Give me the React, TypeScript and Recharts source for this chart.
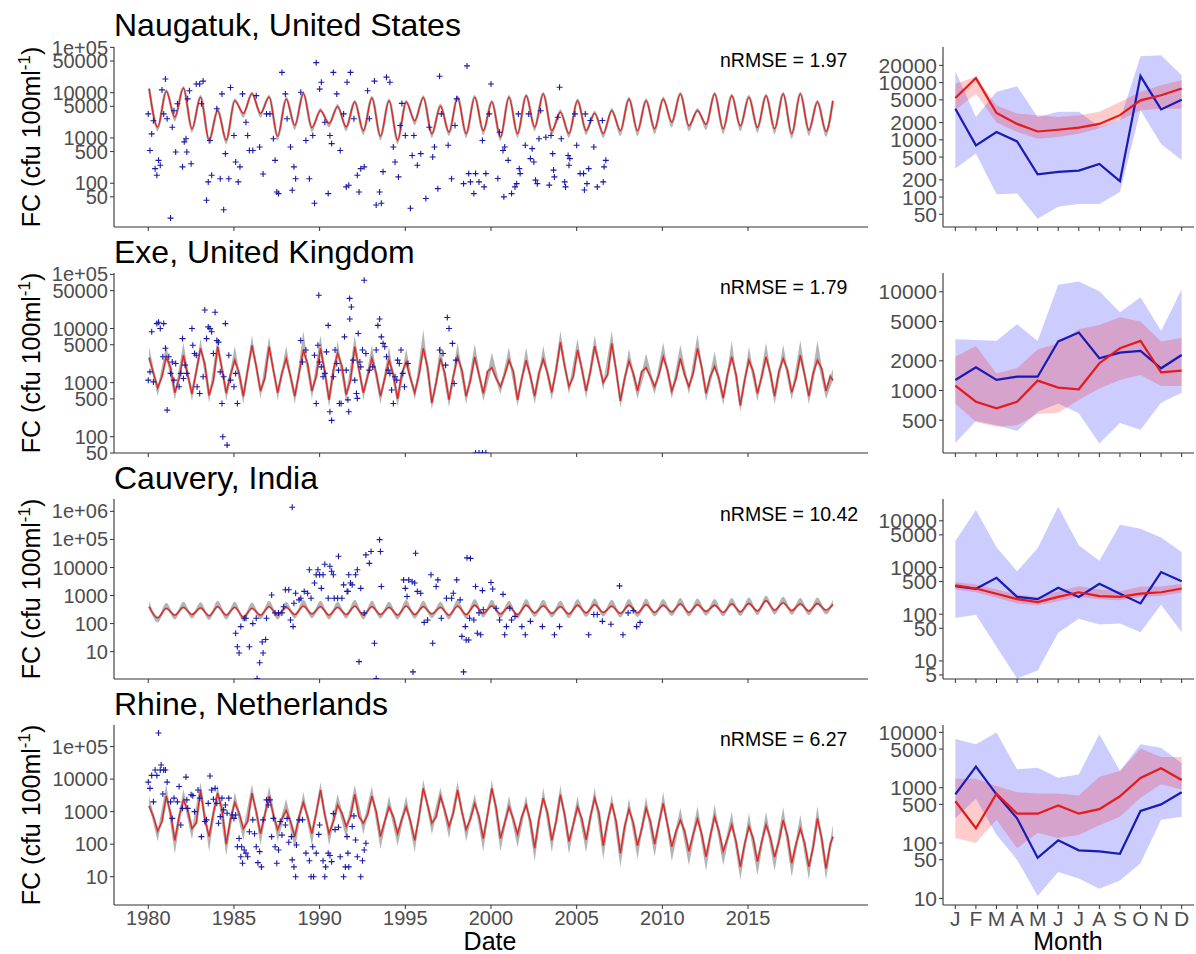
import React from "react";
import { Area, ComposedChart, Line, Scatter, XAxis, YAxis } from "recharts";

const FONT = "'Liberation Sans', Arial, Helvetica, sans-serif";
const AXIS = "#333333";
const TICK_TEXT = "#4d4d4d";
const SIM_RED = "#e8201f";
const OBS_BLUE = "#1a1aa8";
const GRAY_BAND = "#b4b4b4";
const GRAY_LINE = "#a6a6a6";
const MONTH_BLUE = "#1a1ab5";
const MONTH_RED = "#e41a1c";

const START_YEAR = 1980;
const YEAR_TICKS = [1980, 1985, 1990, 1995, 2000, 2005, 2010, 2015];
const MONTHS = ["J", "F", "M", "A", "M", "J", "J", "A", "S", "O", "N", "D"];

// ---- Naugatuk, United States ----
const naugPeak = [12300, 10700, 12600, 7900, 4000, 6600, 9500, 8000, 7200, 9500, 4000, 4900, 6200, 7600, 6600, 6200, 7800, 5000, 7800, 7900, 6200, 7900, 8500, 9300, 3700, 6600, 3500, 4000, 7200, 6600, 7200, 9300, 4000, 9300, 8500, 7900, 8500, 9300, 9300, 6200, 6600];
const naugTrough = [1740, 2900, 1600, 900, 900, 3500, 3500, 1100, 1900, 1700, 2100, 1750, 1450, 1100, 900, 2400, 1250, 1350, 1250, 1450, 1050, 1250, 1750, 1450, 1250, 1450, 1250, 1450, 1450, 1600, 2250, 1850, 2000, 1600, 1850, 1700, 1600, 1250, 1500, 1400];
const naugGrayTop = [14000, 12000, 14000, 9000, 4800, 7500, 10500, 9000, 8200, 10500, 4600, 5600, 7000, 8500, 7500, 7000, 8800, 5800, 8800, 9000, 7000, 9000, 9500, 10500, 4300, 7500, 4000, 4600, 8200, 7500, 8200, 10500, 4600, 10500, 9500, 9000, 9500, 10500, 10500, 7000, 7500];
const naugGrayBottom = [1400, 2300, 1300, 720, 720, 2800, 2800, 880, 1500, 1350, 1700, 1400, 1150, 880, 720, 1900, 1000, 1100, 1000, 1150, 850, 1000, 1400, 1150, 1000, 1150, 1000, 1100, 1100, 1200, 1700, 1400, 1500, 1200, 1400, 1300, 1200, 950, 1100, 1050];
const naugObs: [number, number][] = [
  [1980.0, 3400], [1980.1, 530], [1980.2, 1230], [1980.3, 2400], [1980.4, 210], [1980.5, 150], [1980.6, 320], [1980.7, 250], [1980.8, 11500], [1980.9, 3400],
  [1981.0, 20000], [1981.1, 2650], [1981.3, 17], [1981.4, 1720], [1981.5, 4000], [1981.6, 490], [1981.7, 5700], [1982.0, 230], [1982.1, 820], [1982.2, 960],
  [1982.25, 490], [1982.3, 7300], [1982.4, 11000], [1982.5, 270], [1982.8, 15500], [1983.0, 15500], [1983.1, 5700], [1983.2, 18000], [1983.4, 42], [1983.5, 107],
  [1983.6, 880], [1983.7, 150], [1984.0, 4400], [1984.2, 126], [1984.3, 9400], [1984.4, 26], [1984.5, 450], [1984.7, 126], [1984.8, 13000], [1985.0, 1130],
  [1985.1, 295], [1985.25, 107], [1985.35, 230], [1985.5, 9400], [1985.7, 2230], [1985.8, 1130], [1985.9, 530], [1986.1, 530], [1986.3, 8600], [1986.5, 630],
  [1986.7, 160], [1986.9, 3400], [1987.1, 3400], [1987.3, 960], [1987.4, 320], [1987.5, 64], [1987.6, 59], [1987.8, 28000], [1988.0, 9400], [1988.1, 2650],
  [1988.3, 630], [1988.4, 70], [1988.5, 230], [1988.6, 126], [1988.9, 10200], [1989.2, 880], [1989.4, 126], [1989.6, 1130], [1989.7, 36], [1989.8, 46000],
  [1990.0, 12000], [1990.1, 17000], [1990.3, 2230], [1990.5, 59], [1990.6, 1130], [1990.7, 750], [1990.8, 28000], [1991.0, 9400], [1991.2, 530], [1991.4, 3400],
  [1991.55, 83], [1991.6, 17000], [1991.7, 90], [1991.8, 28000], [1992.0, 2650], [1992.2, 150], [1992.3, 64], [1992.4, 210], [1992.6, 230], [1992.8, 11000],
  [1992.9, 2650], [1993.2, 18000], [1993.3, 33], [1993.5, 64], [1993.6, 36], [1993.7, 180], [1993.9, 22000], [1994.1, 17000], [1994.3, 630], [1994.4, 295],
  [1994.6, 138], [1994.7, 1880], [1994.8, 5800], [1995.0, 1130], [1995.3, 28], [1995.4, 410], [1995.5, 1130], [1995.7, 250], [1995.9, 450], [1996.2, 46],
  [1996.4, 1720], [1996.6, 380], [1996.7, 630], [1996.9, 76], [1997.0, 23000], [1997.1, 3400], [1997.5, 690], [1997.7, 126], [1997.9, 1880], [1998.0, 7300],
  [1998.4, 98], [1998.6, 39000], [1998.7, 163], [1998.8, 107], [1999.0, 59], [1999.1, 163], [1999.3, 107], [1999.5, 880], [1999.6, 83], [1999.7, 163],
  [1999.9, 3400], [2000.0, 15500], [2000.4, 127], [2000.5, 1340], [2000.7, 530], [2000.75, 50], [2000.8, 630], [2001.0, 320], [2001.2, 59], [2001.4, 83],
  [2001.5, 98], [2001.6, 3400], [2001.65, 210], [2001.7, 163], [2002.0, 690], [2002.2, 3400], [2002.3, 350], [2002.4, 580], [2002.5, 295], [2002.6, 117],
  [2002.7, 98], [2002.8, 960], [2002.9, 4000], [2003.2, 1040], [2003.4, 91], [2003.5, 1130], [2003.6, 450], [2003.65, 195], [2003.7, 138], [2003.9, 2870],
  [2004.0, 13200], [2004.1, 960], [2004.3, 107], [2004.35, 83], [2004.5, 410], [2004.55, 250], [2004.6, 350], [2004.9, 3400], [2005.0, 690], [2005.2, 163],
  [2005.4, 163], [2005.45, 71], [2005.5, 3400], [2005.6, 98], [2005.7, 210], [2005.8, 2420], [2006.0, 630], [2006.2, 83], [2006.5, 2420], [2006.55, 107],
  [2006.6, 230], [2006.7, 320],
];
const naugMonthObs = [3500, 800, 1370, 940, 250, 275, 290, 380, 190, 13000, 3400, 5000];
const naugMonthObsLo = [315, 580, 112, 115, 42, 68, 76, 76, 123, 3300, 850, 440];
const naugMonthObsHi = [16000, 2500, 6900, 8600, 2500, 3100, 3100, 1700, 2200, 29000, 30000, 13400];
const naugMonthSim = [5400, 12000, 2950, 1900, 1400, 1500, 1630, 1900, 2700, 4900, 6000, 7900];
const naugMonthSimLo = [3300, 6400, 2000, 1370, 1050, 1120, 1280, 1600, 2200, 3300, 3500, 3500];
const naugMonthSimHi = [9600, 12600, 4000, 2900, 2700, 2500, 2700, 3100, 4600, 6900, 9000, 11000];

// ---- Exe, United Kingdom ----
const exePeak = [2900, 3000, 3200, 4300, 4600, 2600, 4900, 4600, 2800, 4000, 4300, 3500, 4600, 2800, 2600, 2400, 4300, 2800, 3000, 3000, 1900, 2600, 2600, 2700, 5600, 4000, 4700, 5300, 2500, 1900, 3000, 2800, 4300, 2000, 3000, 2600, 3000, 2800, 3200, 2600, 1100];
const exeFall = [1500, 1900, 1400, 2200, 1800, 1500, 2000, 1700, 1300, 2200, 1600, 2000, 1700, 1500, 1400, 1200, 1900, 1500, 1700, 1400, 1200, 1600, 1300, 1500, 2000, 1800, 2200, 1700, 1500, 1300, 1700, 1400, 1900, 1200, 1400, 1600, 1500, 1700, 1400, 1800];
const exeTrough = [800, 650, 620, 580, 640, 560, 700, 650, 560, 700, 480, 600, 650, 560, 500, 650, 420, 480, 560, 630, 840, 480, 560, 660, 840, 700, 1000, 460, 700, 840, 700, 840, 630, 520, 380, 630, 560, 660, 560, 700];
const exeRise = [1300, 1200, 1600, 1100, 1400, 1700, 1200, 1500, 1500, 1300, 1700, 1100, 1300, 1200, 1500, 1400, 1000, 1300, 1100, 1600, 1400, 1200, 1500, 1700, 1300, 1600, 1400, 1200, 1600, 1400, 1200, 1500, 1300, 1400, 1100, 1300, 1600, 1200, 1500, 1300];
const exeGrayTop = [4600, 5000, 5500, 6500, 7000, 4800, 7500, 7000, 4800, 9000, 7500, 6000, 7500, 5000, 4600, 4200, 9500, 5000, 5500, 5200, 3600, 4500, 4500, 4800, 9100, 6500, 7500, 9100, 4200, 3500, 5500, 5000, 7800, 3800, 5900, 4600, 5500, 5000, 6000, 6000, 1800];
const exeGrayBottom = [560, 470, 450, 420, 460, 400, 500, 470, 400, 500, 350, 430, 470, 400, 360, 470, 320, 350, 400, 450, 600, 360, 400, 470, 600, 500, 720, 340, 500, 600, 500, 600, 450, 380, 290, 450, 400, 470, 400, 500];
const exeObs: [number, number][] = [
  [1980.0, 1110], [1980.1, 1580], [1980.2, 8700], [1980.3, 1030], [1980.5, 12300], [1980.6, 13000], [1980.7, 10000], [1980.85, 3000], [1980.9, 12300], [1981.0, 4300],
  [1981.1, 310], [1981.2, 3000], [1981.3, 1480], [1981.4, 2400], [1981.5, 1110], [1981.6, 2250], [1981.8, 840], [1981.9, 1480], [1982.0, 6500], [1982.05, 1190],
  [1982.15, 2100], [1982.25, 1480], [1982.55, 10000], [1982.6, 4900], [1982.7, 3450], [1982.8, 3200], [1982.85, 840], [1983.0, 630], [1983.2, 1280], [1983.3, 22000],
  [1983.4, 6500], [1983.5, 10700], [1983.6, 10000], [1983.7, 8700], [1983.8, 3450], [1983.9, 20000], [1984.0, 6000], [1984.1, 5600], [1984.2, 1580], [1984.3, 410],
  [1984.35, 100], [1984.4, 1280], [1984.5, 12300], [1984.6, 70], [1984.7, 3200], [1984.8, 1110], [1985.0, 840], [1985.1, 1480], [1985.2, 410],
  [1988.9, 6000], [1989.0, 2400], [1989.2, 4000], [1989.7, 3200], [1989.8, 410], [1989.9, 4900], [1989.95, 41000], [1990.0, 2400], [1990.1, 1950], [1990.2, 1280],
  [1990.3, 1480], [1990.4, 3700], [1990.5, 11400], [1990.6, 290], [1990.7, 200], [1990.8, 1280], [1990.9, 4000], [1991.0, 2250], [1991.1, 1700], [1991.15, 410],
  [1991.25, 410], [1991.45, 7000], [1991.55, 1700], [1991.65, 480], [1991.7, 290], [1991.75, 36000], [1991.76, 15000], [1991.85, 25000], [1991.95, 2600], [1992.05, 1110],
  [1992.15, 630], [1992.2, 510], [1992.25, 8100], [1992.35, 2400], [1992.4, 1950], [1992.5, 4000], [1992.6, 78000], [1992.7, 3450], [1992.9, 1700], [1993.1, 1950],
  [1993.3, 4000], [1993.4, 11400], [1993.5, 15000], [1993.6, 7000], [1993.7, 5300], [1993.8, 4600], [1993.9, 3000], [1994.0, 1700], [1994.1, 1480], [1994.2, 730],
  [1994.3, 410], [1994.4, 1280], [1994.5, 1110], [1994.55, 2600], [1994.65, 2250], [1994.75, 4000], [1994.85, 1480], [1994.95, 840], [1995.15, 2250],
  [1997.0, 4000], [1997.2, 3450], [1997.35, 2100], [1997.45, 16000], [1997.55, 10000], [1997.75, 5300], [1997.85, 960], [1997.95, 2600],
  [1999.1, 50], [1999.3, 50], [1999.5, 50], [1999.7, 50],
];
const exeMonthObs = [1280, 1720, 1280, 1380, 1380, 3140, 3860, 2120, 2420, 2520, 1680, 2290];
const exeMonthObsLo = [295, 490, 445, 390, 610, 740, 590, 290, 470, 400, 750, 950];
const exeMonthObsHi = [3300, 3250, 3200, 4700, 3180, 11800, 12700, 10100, 6200, 8800, 4000, 10600];
const exeMonthSim = [1120, 770, 660, 770, 1260, 1070, 1030, 1890, 2680, 3180, 1530, 1590];
const exeMonthSimLo = [740, 480, 430, 445, 580, 595, 800, 1050, 1280, 1440, 1110, 1110];
const exeMonthSimHi = [2200, 2830, 1490, 1680, 2610, 3010, 4170, 4620, 5520, 5000, 3140, 3400];

// ---- Cauvery, India ----
const cauPeak = [400, 350, 380, 360, 400, 380, 350, 400, 380, 420, 400, 380, 420, 400, 380, 420, 400, 380, 420, 450, 430, 400, 450, 430, 400, 450, 470, 420, 450, 470, 450, 500, 470, 450, 500, 520, 650, 550, 500, 520, 480];
const cauTrough = [160, 200, 210, 190, 200, 170, 200, 200, 210, 220, 200, 210, 200, 210, 200, 210, 220, 200, 210, 230, 220, 210, 240, 230, 220, 240, 250, 230, 240, 250, 260, 250, 270, 250, 260, 280, 300, 290, 280, 300];
const cauGrayTop = [650, 550, 600, 580, 650, 600, 560, 650, 600, 700, 650, 600, 700, 650, 600, 700, 650, 600, 700, 750, 700, 650, 750, 700, 650, 750, 780, 700, 750, 780, 750, 820, 780, 750, 820, 850, 1000, 900, 820, 850, 700];
const cauGrayBottom = [110, 140, 150, 135, 140, 120, 140, 140, 150, 155, 140, 150, 140, 150, 140, 150, 155, 140, 150, 165, 155, 150, 170, 165, 155, 170, 180, 165, 170, 180, 185, 180, 190, 180, 185, 200, 210, 205, 200, 210];
const cauObs: [number, number][] = [
  [1985.1, 45], [1985.2, 15], [1985.3, 9], [1985.4, 78], [1985.6, 155], [1985.7, 155], [1985.9, 15], [1986.1, 100], [1986.3, 155], [1986.35, 1.1],
  [1986.5, 4], [1986.65, 22], [1986.7, 9], [1986.85, 27], [1986.9, 155], [1987.2, 1050], [1987.4, 240], [1987.6, 240], [1987.8, 240], [1987.9, 400],
  [1988.0, 1600], [1988.2, 1600], [1988.3, 135], [1988.4, 1400000], [1988.45, 78], [1988.5, 530], [1988.6, 1200], [1988.8, 700], [1988.9, 800], [1989.1, 1400],
  [1989.3, 1200], [1989.4, 8300], [1989.5, 800], [1989.7, 2800], [1989.8, 5500], [1989.9, 8300], [1990.0, 5500], [1990.1, 1800], [1990.2, 5500], [1990.3, 13000],
  [1990.5, 800], [1990.6, 11000], [1990.7, 7300], [1990.8, 5500], [1990.85, 800], [1991.05, 800], [1991.1, 25000], [1991.3, 800], [1991.4, 2400], [1991.6, 1400],
  [1991.65, 1400], [1991.7, 5500], [1991.8, 2800], [1991.9, 2400], [1992.1, 5500], [1992.2, 8300], [1992.3, 4.4], [1992.4, 1800], [1992.6, 240], [1992.7, 28000],
  [1992.9, 14000], [1993.0, 37000], [1993.2, 20], [1993.3, 1.1], [1993.5, 98000], [1993.55, 37000], [1993.6, 2100], [1994.9, 3600], [1995.0, 1800], [1995.1, 920],
  [1995.2, 3600], [1995.4, 3100], [1995.45, 1.9], [1995.55, 2800], [1995.6, 32000], [1995.7, 1400], [1995.9, 1200], [1996.1, 110], [1996.3, 135], [1996.5, 5500],
  [1996.6, 20], [1996.8, 2100], [1996.9, 3600], [1997.1, 155], [1997.4, 800], [1997.7, 800], [1997.8, 1200], [1998.0, 3600], [1998.2, 700], [1998.3, 35],
  [1998.4, 1.9], [1998.5, 78], [1998.55, 26], [1998.6, 22000], [1998.75, 155], [1998.8, 21000], [1998.7, 26], [1999.0, 135], [1999.1, 2100], [1999.2, 45],
  [1999.3, 240], [1999.4, 40], [1999.5, 1500], [1999.55, 310], [2000.0, 2900], [2000.1, 1700], [2000.3, 350], [2000.5, 135], [2000.7, 1100], [2000.8, 40],
  [2000.9, 78], [2001.1, 350], [2001.2, 135], [2001.4, 180], [2001.8, 78], [2002.0, 40], [2002.3, 120], [2003.0, 78], [2003.7, 40], [2004.0, 78],
  [2005.7, 40], [2006.0, 210], [2006.2, 210], [2006.5, 120], [2007.0, 95], [2007.5, 2200], [2007.7, 40], [2008.0, 240], [2008.3, 290], [2008.5, 78],
  [2008.7, 110],
];
const cauMonthObs = [400, 350, 600, 235, 210, 370, 235, 450, 275, 170, 800, 510];
const cauMonthObsLo = [83, 97, 20, 4.2, 6.2, 40, 80, 60, 63, 41, 160, 41];
const cauMonthObsHi = [3700, 17000, 2700, 830, 2600, 20000, 3000, 1400, 8200, 6800, 4400, 2150];
const cauMonthSim = [415, 355, 275, 210, 182, 235, 295, 245, 235, 275, 295, 355];
const cauMonthSimLo = [340, 295, 225, 170, 155, 190, 235, 210, 200, 235, 245, 290];
const cauMonthSimHi = [490, 435, 340, 265, 235, 310, 395, 340, 310, 390, 390, 450];

// ---- Rhine, Netherlands ----
const rhinePeak = [1500, 3000, 2300, 4600, 3700, 1900, 3700, 3000, 1100, 1900, 4600, 1600, 3400, 3000, 1400, 1400, 5200, 2900, 4600, 1800, 5200, 1400, 1600, 2600, 3300, 1400, 2600, 1800, 1200, 1300, 1800, 550, 600, 700, 400, 350, 400, 550, 300, 620, 170];
const rhineFall = [700, 900, 1100, 600, 1200, 900, 1000, 800, 500, 700, 800, 900, 700, 1000, 700, 500, 1600, 1100, 1000, 700, 1300, 600, 500, 900, 800, 600, 900, 500, 450, 500, 400, 250, 200, 250, 120, 150, 160, 180, 110, 150];
const rhineTrough = [250, 130, 300, 170, 100, 300, 210, 280, 170, 210, 210, 350, 440, 170, 210, 130, 440, 350, 280, 150, 150, 200, 75, 130, 120, 135, 90, 52, 90, 100, 83, 60, 41, 60, 20, 29, 40, 26, 20, 18];
const rhineRise = [500, 700, 450, 900, 600, 500, 800, 600, 700, 900, 500, 700, 800, 500, 600, 700, 700, 900, 600, 800, 450, 700, 600, 500, 400, 700, 500, 350, 300, 450, 250, 200, 180, 150, 100, 120, 120, 100, 80, 100];
const rhineGrayTop = [3000, 7000, 5000, 8000, 7000, 4000, 7000, 6000, 2500, 4000, 8000, 3500, 6500, 6000, 3000, 3000, 9500, 5500, 8500, 3500, 9500, 3000, 3200, 5500, 6500, 3000, 5500, 3500, 2600, 2800, 4000, 1300, 1500, 1700, 1000, 900, 1000, 1400, 800, 1500, 400];
const rhineGrayBottom = [120, 50, 140, 60, 45, 130, 90, 120, 70, 90, 90, 150, 200, 70, 90, 55, 200, 150, 120, 60, 60, 80, 30, 55, 50, 55, 35, 20, 35, 40, 30, 22, 15, 22, 8, 11, 15, 10, 8, 8];
const rhineObs: [number, number][] = [
  [1980.0, 8100], [1980.1, 5200], [1980.2, 13000], [1980.3, 2000], [1980.4, 19000], [1980.5, 13000], [1980.6, 260000], [1980.7, 19000], [1980.75, 27000], [1980.85, 3500],
  [1980.9, 19000], [1981.0, 19000], [1981.1, 8100], [1981.3, 2000], [1981.4, 620], [1981.5, 2600], [1981.7, 2000], [1981.8, 5900], [1981.9, 390], [1982.0, 1260],
  [1982.2, 11500], [1982.25, 2300], [1982.3, 1260], [1982.5, 3300], [1982.6, 3100], [1982.7, 1000], [1982.9, 4600], [1983.0, 2600], [1983.1, 170], [1983.3, 500],
  [1983.4, 560], [1983.5, 1800], [1983.6, 12500], [1983.7, 4600], [1983.8, 2400], [1983.9, 5200], [1984.0, 1800], [1984.1, 440], [1984.2, 700], [1984.3, 2600],
  [1984.4, 1130], [1984.5, 1600], [1984.6, 890], [1984.7, 2600], [1984.9, 790], [1985.0, 620], [1985.1, 790], [1985.2, 83], [1985.3, 150], [1985.4, 41],
  [1985.45, 83], [1985.5, 26], [1985.6, 66], [1985.7, 53], [1985.8, 41], [1985.9, 240], [1986.1, 560], [1986.2, 210], [1986.3, 83], [1986.4, 27],
  [1986.5, 59], [1986.6, 20], [1986.7, 560], [1986.9, 2300], [1987.0, 1600], [1987.1, 2300], [1987.2, 170], [1987.3, 620], [1987.4, 83], [1987.5, 26],
  [1987.6, 66], [1987.7, 500], [1987.8, 190], [1988.0, 390], [1988.1, 620], [1988.2, 115], [1988.35, 170], [1988.4, 33], [1988.5, 20], [1988.6, 10],
  [1988.65, 94], [1988.8, 560], [1989.0, 560], [1989.2, 53], [1989.4, 31], [1989.5, 10], [1989.6, 83], [1989.65, 10], [1989.8, 53], [1989.95, 200],
  [1990.0, 390], [1990.2, 31], [1990.3, 10], [1990.35, 20], [1990.5, 53], [1990.6, 45], [1990.7, 29], [1990.8, 870], [1990.9, 280], [1991.1, 330],
  [1991.2, 41], [1991.4, 10], [1991.5, 20], [1991.6, 170], [1991.65, 53], [1991.7, 20], [1991.9, 350], [1992.0, 740], [1992.1, 135], [1992.2, 41],
  [1992.4, 10], [1992.5, 31], [1992.6, 66], [1992.7, 107],
];
const rhineMonthObs = [760, 2400, 760, 280, 54, 112, 74, 71, 64, 380, 500, 830];
const rhineMonthObsLo = [280, 630, 142, 50, 11, 30, 23, 15, 21, 43, 265, 300];
const rhineMonthObsHi = [7600, 6100, 10000, 2150, 2300, 1520, 1740, 9300, 2000, 6100, 5300, 2800];
const rhineMonthSim = [570, 185, 780, 340, 340, 480, 340, 410, 700, 1500, 2250, 1380];
const rhineMonthSimLo = [123, 100, 265, 81, 152, 123, 140, 210, 300, 660, 1150, 930];
const rhineMonthSimHi = [1450, 1450, 1070, 830, 790, 790, 720, 1580, 2000, 5100, 3600, 3600];

type SimPoint = { t: number; v: number };
type BandPoint = { t: number; g: [number, number] };

// peaks sit in winter, troughs mid-year; optional fall/rise values add the in-between wiggles
function buildSim(peak: number[], trough: number[], grayTop: number[], grayBottom: number[], fall?: number[], rise?: number[]) {
  const line: SimPoint[] = [];
  const band: BandPoint[] = [];
  peak.forEach((p, i) => {
    const tp = Math.min(START_YEAR + i + 0.05, 2019.95);
    line.push({ t: tp, v: p });
    band.push({ t: tp, g: [p, grayTop[i]] });
    if (i < trough.length) {
      if (fall) line.push({ t: START_YEAR + i + 0.3, v: fall[i] });
      line.push({ t: START_YEAR + i + 0.55, v: trough[i] });
      band.push({ t: START_YEAR + i + 0.55, g: [grayBottom[i], trough[i]] });
      if (rise) line.push({ t: START_YEAR + i + 0.8, v: rise[i] });
    }
  });
  return { line, band };
}

function buildObs(pairs: [number, number][]) {
  return pairs.map(([t, v]) => ({ t, v }));
}

function buildMonthly(obs: number[], obsLo: number[], obsHi: number[], sim: number[], simLo: number[], simHi: number[]) {
  return MONTHS.map((_, i) => ({
    m: i,
    obs: obs[i],
    obsBand: [obsLo[i], obsHi[i]],
    sim: sim[i],
    simBand: [simLo[i], simHi[i]],
  }));
}

const fmtLog = (v: number) => (v >= 100000 ? `1e+0${Math.round(Math.log10(v))}` : String(v));

function PlusMark(props: any) {
  const { cx, cy } = props;
  if (cx == null || cy == null) return null;
  return <path d={`M${cx - 3},${cy}H${cx + 3}M${cx},${cy - 3}V${cy + 3}`} stroke={OBS_BLUE} strokeWidth={1.1} fill="none" />;
}

const PLOT_H = 180;

interface SeriesProps {
  top: number;
  domain: [number, number];
  ticks: number[];
  sim: ReturnType<typeof buildSim>;
  obs: { t: number; v: number }[];
  showLabels?: boolean;
  smooth?: boolean;
}

function SeriesPanel({ top, domain, ticks, sim, obs, showLabels, smooth }: SeriesProps) {
  const xh = showLabels ? 36 : 10;
  const curve = smooth ? "monotone" : "linear";
  return (
    <div style={{ position: "absolute", left: 0, top: top - 10 }}>
      <ComposedChart width={873} height={10 + PLOT_H + xh} margin={{ top: 10, right: 5, bottom: 0, left: 0 }}>
        <XAxis
          type="number" dataKey="t" domain={[1978, 2022]} ticks={YEAR_TICKS} allowDataOverflow interval={0}
          height={xh} tickSize={4} tickMargin={2}
          axisLine={{ stroke: AXIS, strokeWidth: 1.1 }} tickLine={{ stroke: AXIS }}
          tick={{ fontSize: 20, fill: TICK_TEXT, fontFamily: FONT }}
          tickFormatter={showLabels ? (v: number) => String(v) : () => ""}
        />
        <YAxis
          type="number" scale="log" domain={domain} allowDataOverflow ticks={ticks} interval={0}
          width={114} tickSize={4} tickMargin={2}
          axisLine={{ stroke: AXIS, strokeWidth: 1.1 }} tickLine={{ stroke: AXIS }}
          tick={{ fontSize: 20, fill: TICK_TEXT, fontFamily: FONT }}
          tickFormatter={fmtLog}
        />
        <Area data={sim.band} dataKey="g" type={curve} stroke="none" fill={GRAY_BAND} fillOpacity={1} isAnimationActive={false} />
        <Line data={sim.line} dataKey="v" type={curve} stroke={GRAY_LINE} strokeWidth={2.5} dot={false} isAnimationActive={false} />
        <Line data={sim.line} dataKey="v" type={curve} stroke={SIM_RED} strokeWidth={1.3} dot={false} isAnimationActive={false} />
        <Scatter data={obs} dataKey="v" shape={<PlusMark />} isAnimationActive={false} />
      </ComposedChart>
    </div>
  );
}

interface MonthProps {
  top: number;
  domain: [number, number];
  ticks: number[];
  data: ReturnType<typeof buildMonthly>;
  showLabels?: boolean;
}

function MonthPanel({ top, domain, ticks, data, showLabels }: MonthProps) {
  const xh = showLabels ? 36 : 10;
  return (
    <div style={{ position: "absolute", left: 871, top: top - 10 }}>
      <ComposedChart width={325} height={10 + PLOT_H + xh} data={data} margin={{ top: 10, right: 2, bottom: 0, left: 0 }}>
        <XAxis
          type="number" dataKey="m" domain={[-0.6, 11.6]} ticks={MONTHS.map((_, i) => i)} allowDataOverflow interval={0}
          height={xh} tickSize={4} tickMargin={2}
          axisLine={{ stroke: AXIS, strokeWidth: 1.1 }} tickLine={{ stroke: AXIS }}
          tick={{ fontSize: 21, fill: TICK_TEXT, fontFamily: FONT }}
          tickFormatter={showLabels ? (v: number) => MONTHS[v] : () => ""}
        />
        <YAxis
          type="number" scale="log" domain={domain} allowDataOverflow ticks={ticks} interval={0}
          width={72} tickSize={4} tickMargin={2}
          axisLine={{ stroke: AXIS, strokeWidth: 1.1 }} tickLine={{ stroke: AXIS }}
          tick={{ fontSize: 21, fill: TICK_TEXT, fontFamily: FONT }}
          tickFormatter={fmtLog}
        />
        <Area dataKey="obsBand" type="linear" stroke="none" fill="#0000ff" fillOpacity={0.2} isAnimationActive={false} />
        <Area dataKey="simBand" type="linear" stroke="none" fill="#ff0000" fillOpacity={0.2} isAnimationActive={false} />
        <Line dataKey="obs" type="linear" stroke={MONTH_BLUE} strokeWidth={2.2} dot={false} isAnimationActive={false} />
        <Line dataKey="sim" type="linear" stroke={MONTH_RED} strokeWidth={2.2} dot={false} isAnimationActive={false} />
      </ComposedChart>
    </div>
  );
}

const ROWS = [
  { title: "Naugatuk, United States", top: 47, titleY: 36, nrmse: "nRMSE = 1.97", nrmseY: 67 },
  { title: "Exe, United Kingdom", top: 273, titleY: 263, nrmse: "nRMSE = 1.79", nrmseY: 294 },
  { title: "Cauvery, India", top: 499, titleY: 489, nrmse: "nRMSE = 10.42", nrmseY: 521 },
  { title: "Rhine, Netherlands", top: 725, titleY: 715, nrmse: "nRMSE = 6.27", nrmseY: 746 },
];

export default function App() {
  return (
    <div style={{ position: "absolute", left: 0, top: 0, width: 1196, height: 954, background: "#fff", fontFamily: FONT }}>
      <svg width={1196} height={954} style={{ position: "absolute", left: 0, top: 0 }}>
        {ROWS.map((r) => (
          <g key={r.title}>
            <text x={114} y={r.titleY} fontSize={32} fill="#000" fontFamily={FONT}>{r.title}</text>
            <text x={720} y={r.nrmseY} fontSize={19.5} fill="#000" fontFamily={FONT}>{r.nrmse}</text>
            <text transform={`translate(40,${r.top + 90}) rotate(-90)`} textAnchor="middle" fontSize={25} fill="#000" fontFamily={FONT}>
              FC (cfu 100ml<tspan dy={-10} fontSize={17}>-1</tspan><tspan dy={10}>)</tspan>
            </text>
          </g>
        ))}
        <text x={490} y={950} textAnchor="middle" fontSize={25} fill="#000" fontFamily={FONT}>Date</text>
        <text x={1068} y={950} textAnchor="middle" fontSize={25} fill="#000" fontFamily={FONT}>Month</text>
      </svg>

      <SeriesPanel top={47} domain={[10.8, 102000]} ticks={[50, 100, 500, 1000, 5000, 10000, 50000, 100000]}
        sim={buildSim(naugPeak, naugTrough, naugGrayTop, naugGrayBottom)} obs={buildObs(naugObs)} smooth />
      <SeriesPanel top={273} domain={[50, 106000]} ticks={[50, 100, 500, 1000, 5000, 10000, 50000, 100000]}
        sim={buildSim(exePeak, exeTrough, exeGrayTop, exeGrayBottom, exeFall, exeRise)} obs={buildObs(exeObs)} />
      <SeriesPanel top={499} domain={[1.06, 2750000]} ticks={[10, 100, 1000, 10000, 100000, 1000000]}
        sim={buildSim(cauPeak, cauTrough, cauGrayTop, cauGrayBottom)} obs={buildObs(cauObs)} smooth />
      <SeriesPanel top={725} domain={[1.35, 460000]} ticks={[10, 100, 1000, 10000, 100000]}
        sim={buildSim(rhinePeak, rhineTrough, rhineGrayTop, rhineGrayBottom, rhineFall, rhineRise)} obs={buildObs(rhineObs)} showLabels />

      <MonthPanel top={47} domain={[30, 41900]} ticks={[50, 100, 200, 500, 1000, 2000, 5000, 10000, 20000]}
        data={buildMonthly(naugMonthObs, naugMonthObsLo, naugMonthObsHi, naugMonthSim, naugMonthSimLo, naugMonthSimHi)} />
      <MonthPanel top={273} domain={[233, 15500]} ticks={[500, 1000, 2000, 5000, 10000]}
        data={buildMonthly(exeMonthObs, exeMonthObsLo, exeMonthObsHi, exeMonthSim, exeMonthSimLo, exeMonthSimHi)} />
      <MonthPanel top={499} domain={[4.1, 29300]} ticks={[5, 10, 50, 100, 500, 1000, 5000, 10000]}
        data={buildMonthly(cauMonthObs, cauMonthObsLo, cauMonthObsHi, cauMonthSim, cauMonthSimLo, cauMonthSimHi)} />
      <MonthPanel top={725} domain={[7.6, 13600]} ticks={[10, 50, 100, 500, 1000, 5000, 10000]}
        data={buildMonthly(rhineMonthObs, rhineMonthObsLo, rhineMonthObsHi, rhineMonthSim, rhineMonthSimLo, rhineMonthSimHi)} showLabels />
    </div>
  );
}
